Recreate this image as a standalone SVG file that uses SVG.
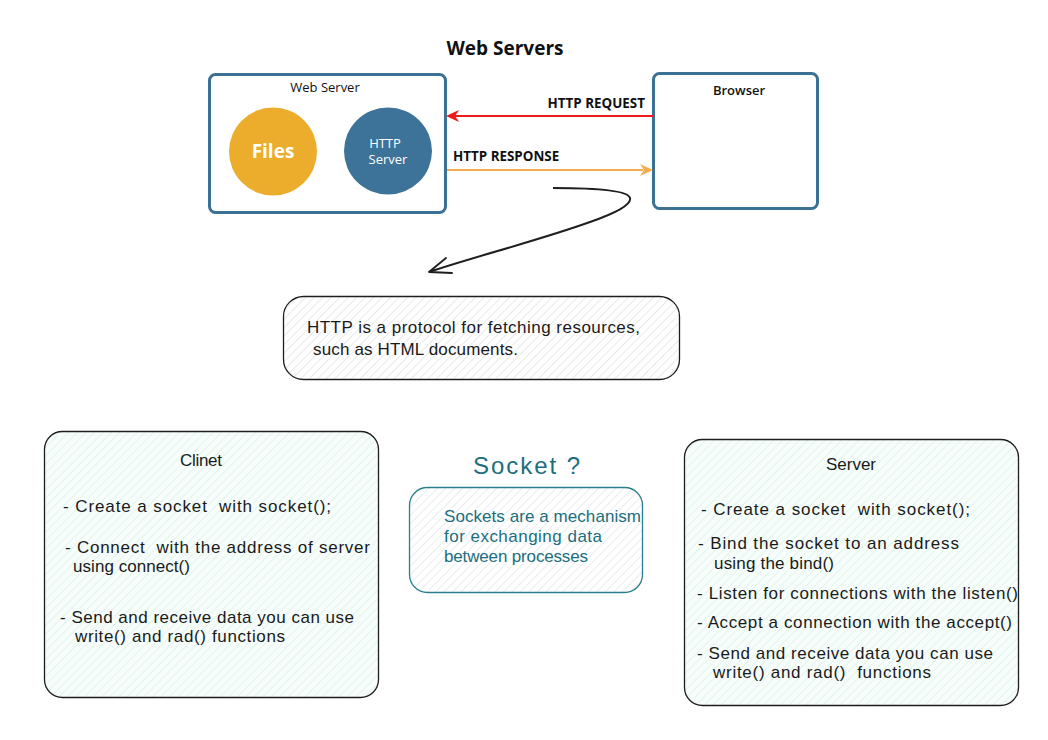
<svg xmlns="http://www.w3.org/2000/svg" width="1048" height="740" viewBox="0 0 1048 740">
<defs>
<pattern id="hatchGray" width="6" height="6" patternUnits="userSpaceOnUse" patternTransform="rotate(45)">
<rect width="6" height="6" fill="#ffffff"/>
<line x1="0" y1="0" x2="0" y2="6" stroke="#d4d4d4" stroke-width="1"/>
</pattern>
<pattern id="hatchGreen" width="6" height="6" patternUnits="userSpaceOnUse" patternTransform="rotate(45)">
<rect width="6" height="6" fill="#f7fdfa"/>
<line x1="0" y1="0" x2="0" y2="6" stroke="#d3f0e3" stroke-width="1.2"/>
</pattern>
<pattern id="hatchTeal" width="6" height="6" patternUnits="userSpaceOnUse" patternTransform="rotate(45)">
<rect width="6" height="6" fill="#ffffff"/>
<line x1="0" y1="0" x2="0" y2="6" stroke="#d3dcdf" stroke-width="1"/>
</pattern>
<style>
.ws { fill: #ffffff; stroke: #3a7194; stroke-width: 3; }
.lbl { font-family: "Open Sans", "Liberation Sans", sans-serif; font-size: 13px; fill: #111; }
.lblb { font-family: "Open Sans", "Liberation Sans", sans-serif; font-size: 13.4px; font-weight: bold; fill: #111; }
.hand { font-family: "Liberation Sans", "DejaVu Sans", sans-serif; font-size: 17px; fill: #1a1a1a; white-space: pre; }
.teal { fill: #1c6e7d; }
.sketch { stroke: #1e1e1e; stroke-width: 1.3; }
</style>
</defs>

<rect width="1048" height="740" fill="#ffffff"/>

<text x="505" y="55" text-anchor="middle" font-family="'Open Sans','Liberation Sans',sans-serif" font-size="19" font-weight="bold" fill="#111">Web Servers</text>

<g id="web-server">
<rect class="ws" x="209.5" y="74.5" width="236" height="138" rx="6"/>
<text class="lbl" x="325" y="92" text-anchor="middle">Web Server</text>
</g>
<g id="files">
<ellipse cx="273" cy="151.5" rx="44" ry="44" fill="#ecac2c"/>
<text x="273" y="158" text-anchor="middle" font-family="'Open Sans','Liberation Sans',sans-serif" font-size="19" font-weight="bold" fill="#ffffff">Files</text>
</g>
<g id="http-server">
<ellipse cx="388" cy="151" rx="44" ry="43.5" fill="#3d7399"/>
<text x="385" y="148" text-anchor="middle" font-family="'Open Sans','Liberation Sans',sans-serif" font-size="13" fill="#ffffff">HTTP</text>
<text x="388" y="164" text-anchor="middle" font-family="'Open Sans','Liberation Sans',sans-serif" font-size="13" fill="#ffffff">Server</text>
</g>
<g id="browser">
<rect class="ws" x="653.5" y="73.5" width="164" height="135" rx="6"/>
<text class="lbl" x="739" y="95" text-anchor="middle" font-weight="600">Browser</text>
</g>

<g id="connectors">
<line x1="653" y1="116" x2="455" y2="116" stroke="#f01a1a" stroke-width="2"/>
<path d="M446,116 L459,110 L455,116 L459,122 Z" fill="#f01a1a"/>
<text class="lblb" x="645" y="108" text-anchor="end">HTTP REQUEST</text>
<line x1="447" y1="170" x2="643" y2="170" stroke="#f2ad4e" stroke-width="2"/>
<path d="M653,170 L640,164 L644,170 L640,176 Z" fill="#f2ad4e"/>
<text class="lblb" x="453" y="161">HTTP RESPONSE</text>
<path d="M553,188 C590,188 628,190 630,198 C632,206 610,215 590,222 C540,240 470,258 429,272" fill="none" stroke="#1e1e1e" stroke-width="2"/>
<path d="M446,258 L429,272 L452,273" fill="none" stroke="#1e1e1e" stroke-width="1.8" stroke-linecap="round" stroke-linejoin="round"/>
</g>

<g id="http-note">
<rect x="283.5" y="296.5" width="396" height="83" rx="20" fill="url(#hatchGray)" class="sketch"/>
<text class="hand" x="307" y="333" textLength="333" lengthAdjust="spacing">HTTP is a protocol for fetching resources,</text>
<text class="hand" x="313" y="355" textLength="205" lengthAdjust="spacing">such as HTML documents.</text>
</g>

<g id="client">
<rect x="44.5" y="431.5" width="334" height="266" rx="18" fill="url(#hatchGreen)" class="sketch"/>
<text class="hand" x="180" y="466" textLength="42" lengthAdjust="spacing">Clinet</text>
<text class="hand" x="63" y="512" textLength="268" lengthAdjust="spacing">- Create a socket  with socket();</text>
<text class="hand" x="65" y="553" textLength="305" lengthAdjust="spacing">- Connect  with the address of server</text>
<text class="hand" x="73" y="572" textLength="117" lengthAdjust="spacing">using connect()</text>
<text class="hand" x="60" y="623" textLength="294" lengthAdjust="spacing">- Send and receive data you can use</text>
<text class="hand" x="75" y="642" textLength="210" lengthAdjust="spacing">write() and rad() functions</text>
</g>

<g id="socket">
<text x="473" y="474" font-family="'Liberation Sans','DejaVu Sans',sans-serif" font-size="24" class="teal" textLength="107" lengthAdjust="spacing">Socket ?</text>
<rect x="409.5" y="487.5" width="233" height="105" rx="18" fill="url(#hatchTeal)" stroke="#2a7f8c" stroke-width="1.3"/>
<text class="hand teal" x="444" y="522" textLength="197" lengthAdjust="spacing">Sockets are a mechanism</text>
<text class="hand teal" x="444" y="542" textLength="158" lengthAdjust="spacing">for exchanging data</text>
<text class="hand teal" x="444" y="562" textLength="144" lengthAdjust="spacing">between processes</text>
</g>

<g id="server">
<rect x="684.5" y="439.5" width="334" height="266" rx="18" fill="url(#hatchGreen)" class="sketch"/>
<text class="hand" x="826" y="470" textLength="50" lengthAdjust="spacing">Server</text>
<text class="hand" x="701" y="515" textLength="269" lengthAdjust="spacing">- Create a socket  with socket();</text>
<text class="hand" x="698" y="549" textLength="261" lengthAdjust="spacing">- Bind the socket to an address</text>
<text class="hand" x="714" y="569" textLength="120" lengthAdjust="spacing">using the bind()</text>
<text class="hand" x="697" y="599" textLength="321" lengthAdjust="spacing">- Listen for connections with the listen()</text>
<text class="hand" x="697" y="628" textLength="315" lengthAdjust="spacing">- Accept a connection with the accept()</text>
<text class="hand" x="697" y="659" textLength="296" lengthAdjust="spacing">- Send and receive data you can use</text>
<text class="hand" x="713" y="678" textLength="218" lengthAdjust="spacing">write() and rad()  functions</text>
</g>
</svg>
